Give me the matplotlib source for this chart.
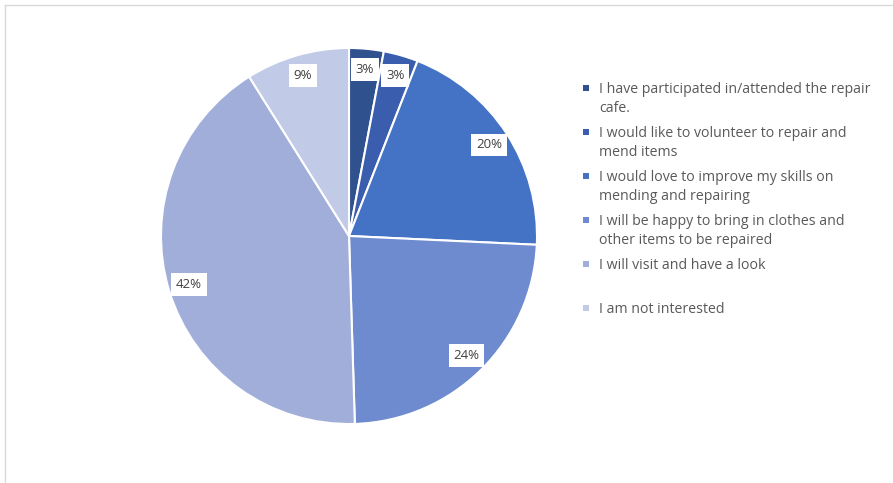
import matplotlib
matplotlib.use("Agg")
import matplotlib.pyplot as plt
from matplotlib.lines import Line2D
from matplotlib.patches import Rectangle

# Survey responses about the repair cafe (percent of respondents)
labels = [
    "I have participated in/attended the repair\ncafe.",
    "I would like to volunteer to repair and\nmend items",
    "I would love to improve my skills on\nmending and repairing",
    "I will be happy to bring in clothes and\nother items to be repaired",
    "I will visit and have a look",
    "I am not interested",
]
shares = [3, 3, 20, 24, 42, 9]
colors = ["#2F528F", "#3A5DAE", "#4472C4", "#6D8BCE", "#A0AED9", "#C1CAE6"]

W, H = 893, 483
fig = plt.figure(figsize=(W / 100, H / 100), dpi=100)

# pie area: centre (349, 236) px, radius 188 px
cx, cy, r = 349, 236, 188
ax = fig.add_axes([(cx - r) / W, (H - cy - r) / H, 2 * r / W, 2 * r / H])
wedges, _, autotexts = ax.pie(
    shares, colors=colors, startangle=90, counterclock=False,
    autopct="%1.0f%%", pctdistance=0.89,
    wedgeprops=dict(edgecolor="white", linewidth=1.5),
    textprops=dict(fontsize=9.5, color="#404040", family="Open Sans"),
)
for t in autotexts:
    t.set_bbox(dict(facecolor="white", edgecolor="none", pad=3.5))
ax.set_xlim(-1, 1)
ax.set_ylim(-1, 1)
ax.set_aspect("equal")
ax.axis("off")

# legend entries, one row every 44 px
row_y = [88, 132, 176, 220, 264, 308]
for lab, col, y in zip(labels, colors, row_y):
    fig.patches.append(Rectangle(((586 - 3) / W, 1 - (y + 3) / H), 6 / W, 6 / H,
                                 transform=fig.transFigure, facecolor=col,
                                 edgecolor="none"))
    fig.text(599 / W, 1 - (y - 6) / H, lab, fontsize=10.2, color="#595959",
             family="Open Sans", va="top", ha="left", linespacing=1.38)

# chart frame (top and left edges)
fig.add_artist(Line2D([5 / W, 1], [1 - 4.5 / H, 1 - 4.5 / H], color="#D9D9D9", lw=1))
fig.add_artist(Line2D([5 / W, 5 / W], [0, 1 - 4.5 / H], color="#D9D9D9", lw=1))

fig.savefig("out.png", dpi=100, facecolor="white")
